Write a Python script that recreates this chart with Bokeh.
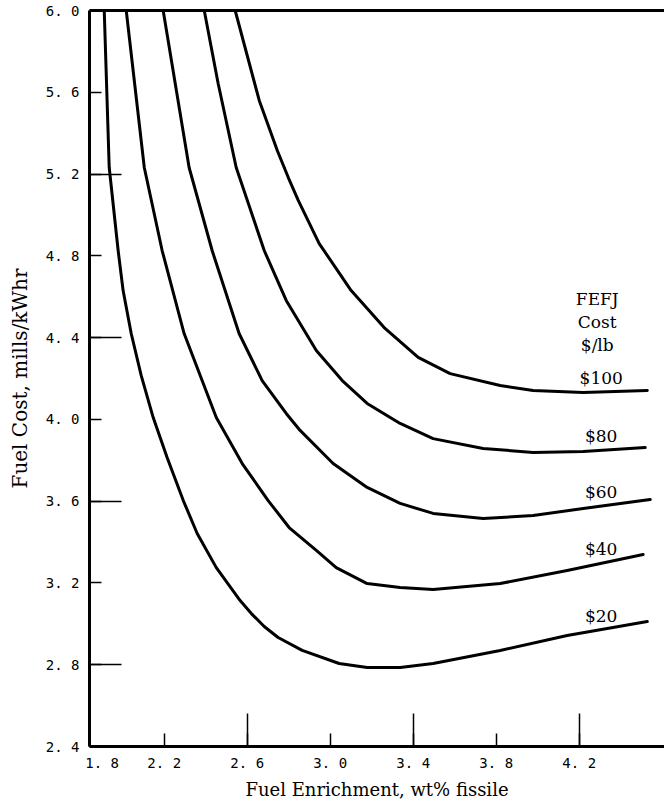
import numpy as np
from bokeh.plotting import figure
from bokeh.models import FixedTicker, LinearAxis, Range1d
from bokeh.core.properties import value
from bokeh.embed import file_html
from bokeh.resources import INLINE

# ---- data ----
cost_levels = ["$20", "$40", "$60", "$80", "$100"]

enr_20 = [1.911, 1.935, 1.978, 2.002, 2.041, 2.089, 2.147, 2.214, 2.292, 2.359,
          2.451, 2.566, 2.624, 2.682, 2.749, 2.865, 3.043, 3.178, 3.337, 3.496,
          3.819, 4.142, 4.528]
fuel_20 = [6.0, 5.232, 4.826, 4.630, 4.420, 4.215, 4.009, 3.814, 3.603, 3.442,
           3.275, 3.114, 3.046, 2.987, 2.933, 2.870, 2.806, 2.786, 2.786, 2.806,
           2.870, 2.943, 3.011]

enr_40 = [2.017, 2.104, 2.190, 2.296, 2.451, 2.576, 2.701, 2.802, 2.933, 3.029,
          3.178, 3.337, 3.496, 3.819, 4.142, 4.508]
fuel_40 = [6.0, 5.232, 4.826, 4.420, 4.009, 3.784, 3.603, 3.471, 3.359, 3.275,
           3.197, 3.178, 3.168, 3.197, 3.261, 3.339]

enr_60 = [2.195, 2.320, 2.431, 2.561, 2.672, 2.788, 2.855, 3.014, 3.178, 3.337,
          3.496, 3.737, 3.978, 4.219, 4.542]
fuel_60 = [6.0, 5.232, 4.826, 4.420, 4.190, 4.029, 3.946, 3.784, 3.667, 3.589,
           3.540, 3.515, 3.530, 3.564, 3.608]

enr_80 = [2.393, 2.460, 2.547, 2.682, 2.788, 2.933, 3.058, 3.178, 3.337, 3.496,
          3.737, 3.978, 4.219, 4.518]
fuel_80 = [6.0, 5.643, 5.232, 4.826, 4.582, 4.337, 4.190, 4.078, 3.980, 3.906,
           3.858, 3.838, 3.843, 3.862]

enr_100 = [2.542, 2.658, 2.745, 2.798, 2.846, 2.947, 3.101, 3.260, 3.424, 3.578,
           3.819, 3.978, 4.219, 4.528]
fuel_100 = [6.0, 5.560, 5.315, 5.183, 5.071, 4.860, 4.630, 4.449, 4.303, 4.224,
            4.166, 4.141, 4.131, 4.141]

X_MIN, X_MAX = 1.84, 4.611
Y_MIN, Y_MAX = 2.4, 6.0

NBSP = "\u00a0"
x_ticks = [X_MIN, 2.2, 2.6, 3.0, 3.4, 3.8, 4.2]
x_tick_labels = [NBSP * 3 + "1. 8", "2. 2", "2. 6", "3. 0", "3. 4", "3. 8", "4. 2"]
x_long_ticks = [2.6, 3.4, 4.2]
y_ticks = [2.4, 2.8, 3.2, 3.6, 4.0, 4.4, 4.8, 5.2, 5.6, Y_MAX]
y_tick_labels = ["2. 4", "2. 8", "3. 2", "3. 6", "4. 0", "4. 4", "4. 8", "5. 2", "5. 6", "6. 0"]
y_long_ticks = [2.8, 3.6, 4.4, 5.2]

MONO = "DejaVu Sans Mono"
SERIF = "DejaVu Serif"

p = figure(width=664, height=802,
           x_range=Range1d(X_MIN, X_MAX), y_range=Range1d(Y_MIN, Y_MAX),
           output_backend="svg", toolbar_location=None,
           min_border_left=89, min_border_right=0,
           min_border_top=10, min_border_bottom=56)
p.outline_line_color = None
p.grid.visible = False
p.background_fill_color = "white"
p.border_fill_color = "white"

# bottom axis
xa = p.xaxis[0]
xa.ticker = FixedTicker(ticks=x_ticks, minor_ticks=x_long_ticks)
xa.major_label_overrides = dict(zip(x_ticks, x_tick_labels))
xa.major_tick_in = 13
xa.major_tick_out = 0
xa.minor_tick_in = 33
xa.minor_tick_out = 0
xa.axis_line_width = 3
xa.axis_line_color = "black"
xa.major_tick_line_width = 1.5
xa.minor_tick_line_width = 1.5
xa.major_tick_line_color = "black"
xa.minor_tick_line_color = "black"
xa.major_label_text_font = MONO
xa.major_label_text_font_size = "14px"
xa.major_label_text_color = "black"
xa.major_label_standoff = 8
xa.axis_label = "Fuel Enrichment, wt% fissile"
xa.axis_label_text_font = SERIF
xa.axis_label_text_font_size = "18px"
xa.axis_label_text_font_style = "normal"
xa.axis_label_text_color = "black"
xa.axis_label_standoff = 5

# left axis
ya = p.yaxis[0]
ya.ticker = FixedTicker(ticks=y_ticks, minor_ticks=y_long_ticks)
ya.major_label_overrides = dict(zip(y_ticks, y_tick_labels))
ya.major_tick_in = 12
ya.major_tick_out = 0
ya.minor_tick_in = 32
ya.minor_tick_out = 0
ya.axis_line_width = 3
ya.axis_line_color = "black"
ya.major_tick_line_width = 1.5
ya.minor_tick_line_width = 1.5
ya.major_tick_line_color = "black"
ya.minor_tick_line_color = "black"
ya.major_label_text_font = MONO
ya.major_label_text_font_size = "14px"
ya.major_label_text_color = "black"
ya.major_label_standoff = 10
ya.axis_label = "Fuel Cost, mills/kWhr"
ya.axis_label_text_font = SERIF
ya.axis_label_text_font_size = "20px"
ya.axis_label_text_font_style = "normal"
ya.axis_label_text_color = "black"
ya.axis_label_standoff = 11

# top frame line
top = LinearAxis(ticker=FixedTicker(ticks=[]), axis_line_width=3, axis_line_color="black",
                 major_label_standoff=0, major_tick_in=0, major_tick_out=0,
                 minor_tick_in=0, minor_tick_out=0)
p.add_layout(top, "above")

series = [(enr_20, fuel_20), (enr_40, fuel_40), (enr_60, fuel_60),
          (enr_80, fuel_80), (enr_100, fuel_100)]
for xs, ys in series:
    p.line(xs, ys, line_width=3, line_color="black", line_join="round", line_cap="round")

# curve labels
LABEL_X = 4.306
label_y = [float(np.interp(LABEL_X, xs, ys)) for xs, ys in series]
p.text(x=[LABEL_X] * len(cost_levels), y=label_y, text=cost_levels,
       text_font=value(SERIF), text_font_size="17px", text_color="black",
       text_align="center", text_baseline="middle", y_offset=-14)

# header of the curve labels
p.text(x=[4.287], y=[4.474], text=["FEFJ\nCost\n$/lb"],
       text_font=value(SERIF), text_font_size="17px", text_color="black",
       text_align="center", text_baseline="middle", text_line_height=1.15)

open("out.html", "w").write(file_html(p, INLINE))
